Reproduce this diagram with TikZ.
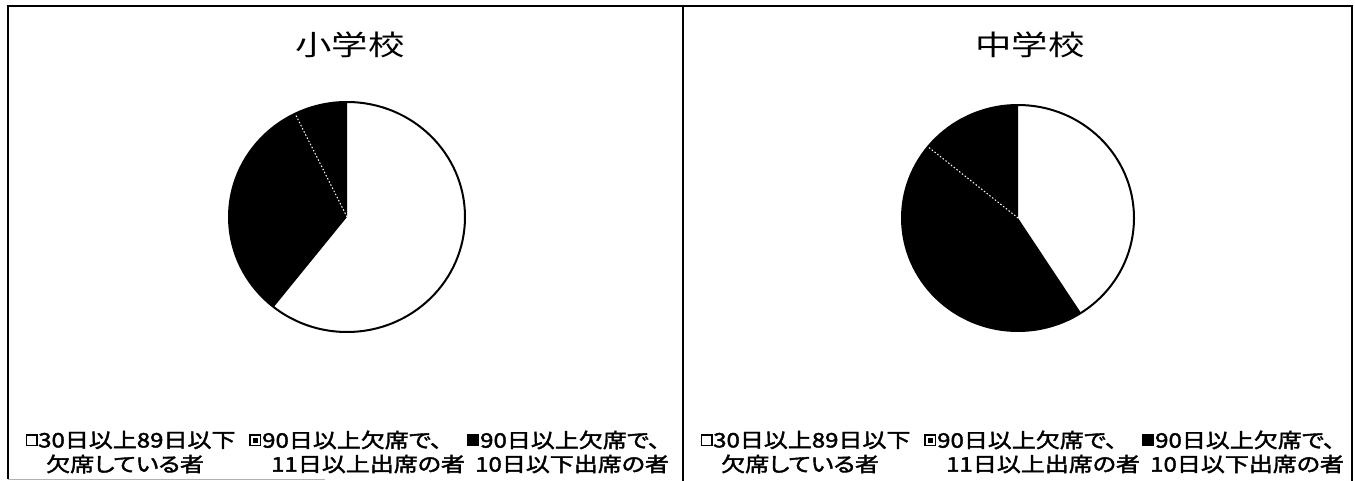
\documentclass[tikz,border=0pt]{standalone}
\usepackage{fontspec}
\newfontfamily\jptitle[FakeStretch=1.3]{Noto Sans CJK JP}
\newfontfamily\jpleg[FakeStretch=1.2,FakeBold=2,RawFeature=+palt]{Noto Sans CJK JP}
\begin{document}
\begin{tikzpicture}[x=1pt,y=-1pt,
  frameline/.style={line width=2.5pt, black},
  pieline/.style={line width=2pt, black},
  sepline/.style={white, line width=1pt, dash pattern=on 1.5pt off 2pt},
  charttitle/.style={font=\jptitle\fontsize{28}{30}\selectfont, inner sep=0},
  leg/.style={font=\jpleg\fontsize{20}{22}\selectfont, inner sep=0, anchor=west},
  legbox/.style={draw=black, line width=1.5pt, minimum size=10.5pt, inner sep=0},
]
\useasboundingbox (0,0) rectangle (1355,481);
\fill[white] (0,0) rectangle (1355,481);

% frames
\draw[frameline] (8,479) -- (8,6) -- (1352,6) -- (1352,481);
\draw[frameline] (683,6) -- (683,481);
\draw[gray!60, line width=1pt] (8,479) -- (325,479);

% ---------- left panel ----------
\node[charttitle] (t1) at (350,45) {小学校};
\coordinate (c1) at (347,217);
\fill[white] (c1) ellipse [x radius=118, y radius=115];
\fill[black] (c1) -- ++(128.4:118 and 115) arc[start angle=128.4, end angle=270, x radius=118, y radius=115] -- cycle;
\draw[sepline] (c1) -- ++(243.9:118 and 115);
\draw[pieline] (c1) ellipse [x radius=118, y radius=115];

% ---------- right panel ----------
\node[charttitle] (t2) at (1030,45) {中学校};
\coordinate (c2) at (1018,218);
\fill[white] (c2) ellipse [x radius=116, y radius=113];
\fill[black] (c2) -- ++(57.1:116 and 113) arc[start angle=57.1, end angle=270, x radius=116, y radius=113] -- cycle;
\draw[sepline] (c2) -- ++(219.1:116 and 113);
\draw[pieline] (c2) ellipse [x radius=116, y radius=113];

% ---------- legends ----------
\foreach \dx/\p in {0/a,675/b}{
  \node[legbox, fill=white] (m1\p) at (31.5+\dx,440) {};
  \node[leg] (l1\p) at (38+\dx,440) {30日以上89日以下};
  \node[leg] (l1\p r) at (46+\dx,464) {欠席している者};
  \node[legbox, fill=white] (m2\p) at (255+\dx,440) {};
  \fill[black] ([shift={(-2.5pt,-2.5pt)}]m2\p.center) rectangle ([shift={(2.5pt,2.5pt)}]m2\p.center);
  \node[leg] (l2\p) at (262+\dx,440) {90日以上欠席で、};
  \node[leg] (l2\p r) at (271+\dx,464) {11日以上出席の者};
  \node[legbox, fill=black] (m3\p) at (472.5+\dx,440) {};
  \node[leg] (l3\p) at (480+\dx,440) {90日以上欠席で、};
  \node[leg] (l3\p r) at (475+\dx,464) {10日以下出席の者};
}
\end{tikzpicture}
\end{document}
